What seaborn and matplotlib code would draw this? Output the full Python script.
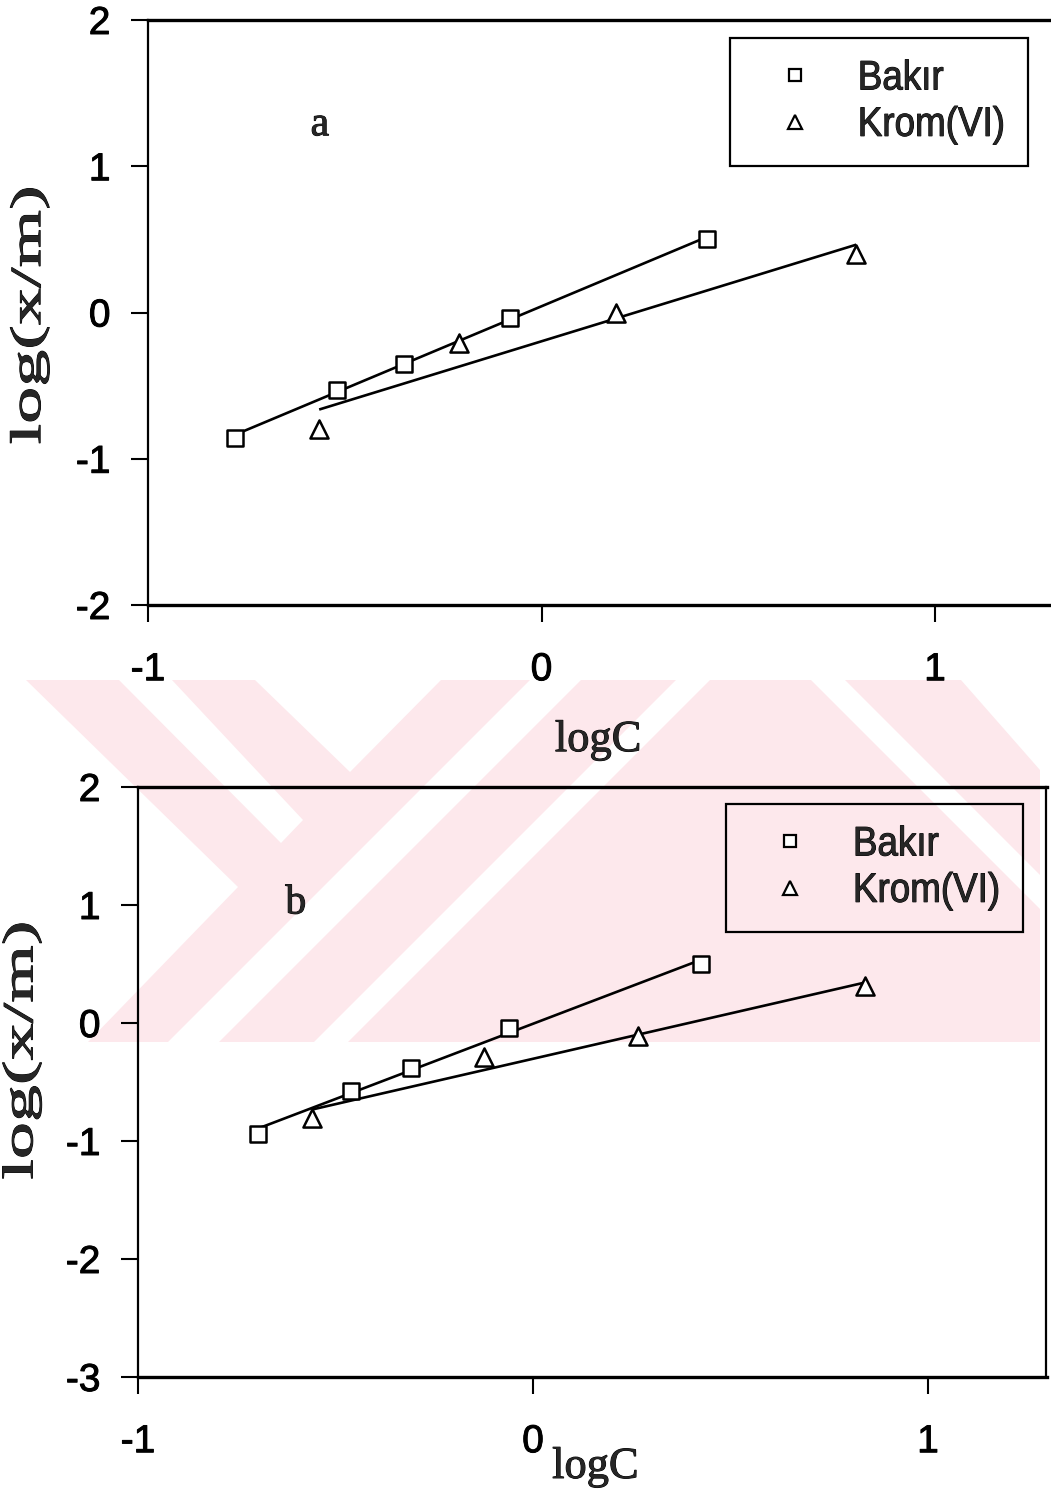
import matplotlib
matplotlib.use("Agg")
import matplotlib.pyplot as plt
from matplotlib.lines import Line2D
from matplotlib.patches import Polygon
from matplotlib.patheffects import AbstractPathEffect
from matplotlib.transforms import Affine2D
import pandas as pd
import seaborn as sns

# ---- data -------------------------------------------------------------
metals = ["Bakır", "Krom(VI)"]

# panel a
bakir_a_logc = [-0.78, -0.52, -0.35, -0.08, 0.42]
bakir_a_logxm = [-0.855, -0.53, -0.35, -0.035, 0.505]
krom_a_logc = [-0.565, -0.21, 0.19, 0.80]
krom_a_logxm = [-0.80, -0.21, 0.0, 0.40]

# panel b
bakir_b_logc = [-0.695, -0.46, -0.31, -0.06, 0.425]
bakir_b_logxm = [-0.94, -0.575, -0.38, -0.04, 0.50]
krom_b_logc = [-0.56, -0.125, 0.265, 0.84]
krom_b_logxm = [-0.805, -0.29, -0.11, 0.315]

x_ticks = [-1, 0, 1]
y_ticks_a = [-2, -1, 0, 1, 2]
y_ticks_b = [-3, -2, -1, 0, 1, 2]


def frame(b_x, b_y, k_x, k_y):
    return pd.DataFrame({
        "logC": b_x + k_x,
        "logxm": b_y + k_y,
        "metal": [metals[0]] * len(b_x) + [metals[1]] * len(k_x),
    })


df_a = frame(bakir_a_logc, bakir_a_logxm, krom_a_logc, krom_a_logxm)
df_b = frame(bakir_b_logc, bakir_b_logxm, krom_b_logc, krom_b_logxm)


# ---- text effect: optional vertical stretch about a point, plus a thin
# outline so the glyphs look as heavy as photocopied type ---------------
class Heavy(AbstractPathEffect):
    def __init__(self, center=None, k=1.0, lw=0.8):
        super().__init__()
        self.center = center
        self.k = k
        self.lw = lw

    def draw_path(self, renderer, gc, tpath, affine, rgbFace=None):
        tr = affine
        if self.center is not None and self.k != 1.0:
            cx, cy = self.center
            tr = affine + Affine2D().translate(-cx, -cy).scale(1, self.k).translate(cx, cy)
        if self.lw:
            gc0 = renderer.new_gc()
            gc0.copy_properties(gc)
            gc0.set_linewidth(self.lw)
            gc0.set_foreground("black")
            renderer.draw_path(gc0, tpath, tr, rgbFace)
            gc0.restore()
        renderer.draw_path(gc, tpath, tr, rgbFace)


# ---- style ------------------------------------------------------------
sns.set_style("ticks")
plt.rcParams["font.family"] = ["Liberation Sans", "DejaVu Sans"]
SERIF = ["Liberation Serif", "DejaVu Serif"]

W, H = 1051, 1493
fig = plt.figure(figsize=(W / 100, H / 100), dpi=100, facecolor="white")

# faint background emblem behind the lower panel
pink = "#fde8ec"


def px(pts):
    return [(x / W, 1 - y / H) for x, y in pts]


emblem = [(26, 680), (961, 680), (1040, 770), (1040, 1042), (88, 1042), (238, 887)]
gaps = [
    [(119, 680), (172, 680), (303, 820), (281, 843)],
    [(255, 680), (441, 680), (350, 772)],
    [(530, 680), (581, 680), (219, 1042), (168, 1042)],
    [(676, 680), (710, 680), (348, 1042), (314, 1042)],
    [(811, 680), (845, 680), (1040, 875), (1040, 909)],
]
fig.patches.append(Polygon(px(emblem), closed=True, transform=fig.transFigure,
                           facecolor=pink, edgecolor="none", zorder=-10))
for g in gaps:
    fig.patches.append(Polygon(px(g), closed=True, transform=fig.transFigure,
                               facecolor="white", edgecolor="none", zorder=-9))

markers = {metals[0]: ("s", 135), metals[1]: ("^", 170)}


def draw_panel(ax, df, yticks, ylim, letter, leg_anchor, xlabel_xy, ylabel_xy, letter_xy):
    ax.set_facecolor("none")
    for metal in metals:
        sub = df[df["metal"] == metal]
        sns.regplot(data=sub, x="logC", y="logxm", ax=ax, scatter=False, ci=None,
                    truncate=True, color="black",
                    line_kws=dict(lw=1.9, zorder=2, solid_capstyle="butt"))
    for metal in metals:
        sub = df[df["metal"] == metal]
        m, s = markers[metal]
        sns.scatterplot(data=sub, x="logC", y="logxm", ax=ax, marker=m, s=s,
                        color="white", edgecolor="black", linewidth=1.8,
                        zorder=3, legend=False)

    ax.set_xlim(-1, 1.3)
    ax.set_ylim(*ylim)
    ax.set_xticks(x_ticks)
    ax.set_yticks(yticks)
    ax.set_xticklabels([str(t) for t in x_ticks])
    ax.set_yticklabels([str(t) for t in yticks])
    ax.tick_params(axis="both", direction="out", length=12, width=1.5,
                   labelsize=28, colors="black")
    ax.tick_params(axis="x", pad=22)
    ax.tick_params(axis="y", pad=15)

    for side in ["top", "bottom"]:
        ax.spines[side].set_linewidth(2.4)
    for side in ["left", "right"]:
        ax.spines[side].set_linewidth(1.6)
    for sp in ax.spines.values():
        sp.set_color("black")
        sp.set_visible(True)

    ax.set_xlabel("logC", fontsize=32, family=SERIF)
    ax.xaxis.set_label_coords(*xlabel_xy)
    ax.xaxis.label.set_va("center")
    ax.set_ylabel("log(x/m)", fontsize=31, family=SERIF)
    ax.yaxis.set_label_coords(*ylabel_xy)
    ax.yaxis.label.set_va("center")
    ax.yaxis.label.set_ha("center")

    ax.text(*letter_xy, letter, transform=ax.transAxes, fontsize=30,
            family=SERIF, ha="center", va="center")

    handles = [
        Line2D([], [], linestyle="none", marker=markers[m][0],
               markersize=8.5 if m == metals[0] else 9.5,
               markerfacecolor="white", markeredgecolor="black",
               markeredgewidth=1.6)
        for m in metals
    ]
    leg = ax.legend(handles, metals, loc="upper right", bbox_to_anchor=leg_anchor,
                    bbox_transform=ax.transAxes, borderaxespad=0, frameon=True,
                    fancybox=False, shadow=False, fontsize=26.5, borderpad=0.63,
                    handlelength=2.23, handletextpad=0.6, labelspacing=0.31)
    fr = leg.get_frame()
    fr.set_edgecolor("black")
    fr.set_linewidth(1.6)
    fr.set_facecolor("none")
    fr.set_alpha(None)
    return leg


# panel a: x from 148 px (-1) at 393.5 px per unit, y from 20 to 605 px
ax_a = fig.add_axes([148 / W, 1 - 605 / H, (1.3 + 1) * 393.5 / W, 585 / H])
leg_a = draw_panel(ax_a, df_a, y_ticks_a, (-2, 2), "a", (0.972, 0.969),
                   (0.4975, -0.231), (-0.1305, 0.496), (0.190, 0.8205))

# panel b: x from 138 px (-1) at 395 px per unit, y from 787 to 1377 px
ax_b = fig.add_axes([138 / W, 1 - 1377 / H, (1.3 + 1) * 395 / W, 590 / H])
leg_b = draw_panel(ax_b, df_b, y_ticks_b, (-3, 2), "b", (0.974, 0.971),
                   (0.5036, -0.1525), (-0.1275, 0.554), (0.1737, 0.803))

# heavier type; the rotated axis titles are drawn tall, the legend entries a bit tall
fig.canvas.draw()
for ax, leg in [(ax_a, leg_a), (ax_b, leg_b)]:
    for t in ax.get_xticklabels() + ax.get_yticklabels() + ax.texts + [ax.xaxis.label]:
        t.set_path_effects([Heavy(lw=0.7)])
    yl = ax.yaxis.label
    c = yl.get_window_extent().get_points().mean(axis=0)
    yl.set_path_effects([Heavy(center=tuple(c), k=1.72, lw=0.7)])
    for t in leg.get_texts():
        c = t.get_window_extent().get_points().mean(axis=0)
        t.set_path_effects([Heavy(center=tuple(c), k=1.12, lw=0.7)])

fig.savefig("out.png", dpi=100, facecolor="white")
